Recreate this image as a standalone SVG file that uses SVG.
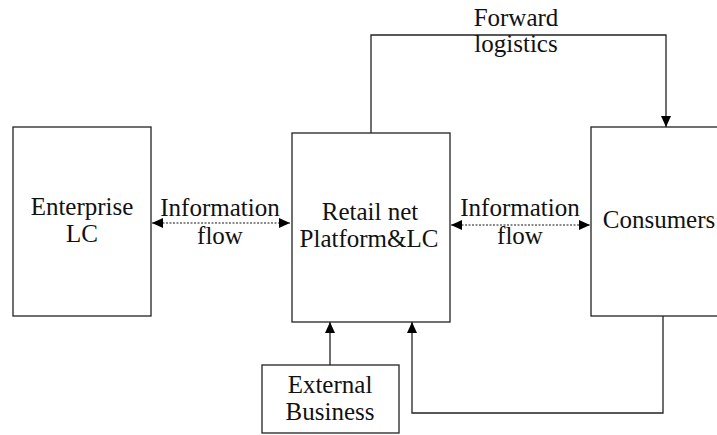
<svg xmlns="http://www.w3.org/2000/svg" width="717" height="435" viewBox="0 0 717 435">
<style>
.box{fill:#fff;stroke:#222;stroke-width:1.3}
.t{font-family:'Liberation Serif','Times New Roman',Times,'DejaVu Serif',serif;font-size:25px;fill:#111;text-anchor:middle}
.ln{fill:none;stroke:#222;stroke-width:1.3}
.dot{fill:none;stroke:#666;stroke-width:1.3;stroke-dasharray:2 1.5}
</style>
<defs>
<marker id="ah" markerUnits="userSpaceOnUse" markerWidth="12" markerHeight="10" refX="11" refY="5" orient="auto-start-reverse">
<path d="M0,0 L11,5 L0,10 Z" fill="#000"/>
</marker>
</defs>
<rect width="717" height="435" fill="#fff"/>
<g id="enterprise">
<rect class="box" x="13" y="127" width="138" height="189"/>
<text class="t" x="82" y="215" font-family="Liberation Serif, serif">Enterprise</text>
<text class="t" x="82" y="242" font-family="Liberation Serif, serif">LC</text>
</g>
<g id="retail">
<rect class="box" x="292" y="133" width="158" height="189"/>
<text class="t" x="370" y="220">Retail net</text>
<text class="t" x="369" y="247">Platform&amp;LC</text>
</g>
<g id="consumers">
<rect class="box" x="591" y="127" width="140" height="189"/>
<text class="t" x="659" y="228">Consumers</text>
</g>
<g id="external">
<rect class="box" x="262" y="365" width="137" height="68"/>
<text class="t" x="330" y="393">External</text>
<text class="t" x="330" y="420">Business</text>
</g>
<g id="connectors">
<path class="dot" d="M152,223 H290" marker-start="url(#ah)" marker-end="url(#ah)"/>
<path class="dot" d="M451,225 H590" marker-start="url(#ah)" marker-end="url(#ah)"/>
<path class="ln" d="M371,133 V35 H666 V127" marker-end="url(#ah)"/>
<path class="ln" d="M663,316 V413 H412 V322" marker-end="url(#ah)"/>
<path class="ln" d="M330,365 V322" marker-end="url(#ah)"/>
<text class="t" x="220" y="216">Information</text>
<text class="t" x="220" y="244">flow</text>
<text class="t" x="520" y="216">Information</text>
<text class="t" x="520" y="244">flow</text>
<text class="t" x="516" y="26">Forward</text>
<text class="t" x="516" y="52">logistics</text>
</g>
</svg>
